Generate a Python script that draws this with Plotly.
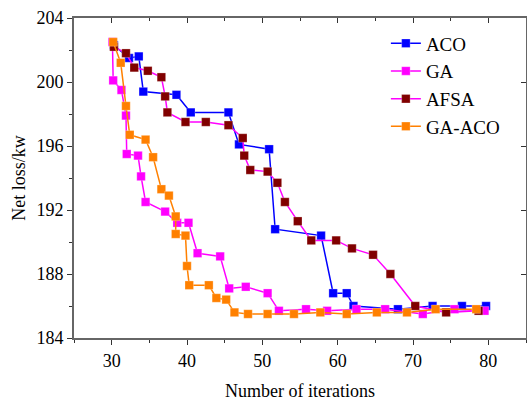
import plotly.graph_objects as go

aco_x = [30.3, 32.3, 33.6, 34.2, 38.6, 40.5, 45.5, 46.9, 50.9, 51.7, 57.8, 59.4, 61.2, 62.1, 68.0, 72.6, 76.5, 79.7]
aco_y = [202.3, 201.5, 201.6, 199.4, 199.2, 198.1, 198.1, 196.1, 195.8, 190.8, 190.4, 186.8, 186.8, 186.0, 185.8, 186.0, 186.0, 186.0]

ga_x = [30.1, 30.2, 31.3, 31.9, 32.0, 33.5, 33.9, 34.5, 37.1, 38.7, 40.2, 41.4, 44.4, 45.6, 47.8, 50.7, 52.2, 55.8, 58.6, 62.5, 66.3, 71.3, 75.5, 79.5]
ga_y = [202.5, 200.1, 199.5, 197.9, 195.5, 195.4, 194.1, 192.5, 191.9, 191.2, 191.2, 189.3, 189.1, 187.1, 187.2, 186.8, 185.7, 185.8, 185.7, 185.8, 185.8, 185.5, 185.8, 185.7]

afsa_x = [30.3, 31.9, 33.0, 34.8, 36.6, 37.1, 37.4, 39.8, 42.5, 45.5, 47.4, 47.6, 48.4, 50.7, 52.0, 53.0, 54.7, 56.5, 59.8, 61.9, 64.7, 67.0, 70.3, 74.4, 78.7]
afsa_y = [202.2, 201.8, 200.9, 200.7, 200.3, 199.1, 198.1, 197.5, 197.5, 197.3, 196.5, 195.4, 194.5, 194.4, 193.7, 192.5, 191.3, 190.1, 190.1, 189.6, 189.2, 188.0, 186.0, 185.6, 185.7]

gaaco_x = [30.2, 31.2, 31.9, 32.4, 34.5, 35.5, 36.6, 37.6, 38.5, 38.5, 39.8, 40.0, 40.3, 42.9, 43.9, 45.2, 46.3, 48.1, 50.7, 54.2, 57.7, 61.2, 65.2, 69.2, 73.0, 78.4]
gaaco_y = [202.5, 201.2, 198.5, 196.7, 196.4, 195.3, 193.3, 192.9, 191.6, 190.5, 190.4, 188.5, 187.3, 187.3, 186.5, 186.4, 185.6, 185.5, 185.5, 185.5, 185.6, 185.5, 185.6, 185.6, 185.8, 185.8]

series = [
    ("ACO", aco_x, aco_y, "#0000FF", "#0000FF"),
    ("GA", ga_x, ga_y, "#FF00FF", "#FF00FF"),
    ("AFSA", afsa_x, afsa_y, "#FF00FF", "#800000"),
    ("GA-ACO", gaaco_x, gaaco_y, "#FF8000", "#FF8000"),
]

fig = go.Figure()
for name, xs, ys, lc, mc in series:
    fig.add_trace(go.Scatter(
        x=xs, y=ys, name=name, mode="lines+markers",
        line=dict(color=lc, width=1.5),
        marker=dict(symbol="square", size=8.5, color=mc,
                    line=dict(color="rgba(255,255,255,0.5)", width=0.5)),
    ))

font = "Liberation Serif"
axcol = "#666666"

fig.update_layout(
    width=527, height=401,
    margin=dict(l=74, r=1, t=18, b=63),
    paper_bgcolor="white", plot_bgcolor="white",
    font=dict(family=font, size=18, color="black"),
    showlegend=True,
    legend=dict(x=0.69, y=0.98, xanchor="left", yanchor="top",
                bgcolor="rgba(0,0,0,0)", font=dict(family=font, size=19),
                tracegroupgap=0, itemwidth=30),
    xaxis=dict(range=[25, 85], dtick=10, tick0=0, showgrid=False, zeroline=False,
               showline=True, linecolor=axcol, linewidth=2,
               ticks="outside", ticklen=5, tickcolor="#333", tickwidth=1,
               tickfont=dict(family=font, size=18),
               minor=dict(dtick=5, tick0=0, ticks="outside", ticklen=3, tickcolor="#333"),
               title=dict(text="Number of iterations", font=dict(family=font, size=18), standoff=15)),
    yaxis=dict(range=[184, 204], dtick=4, tick0=0, showgrid=False, zeroline=False,
               showline=True, linecolor=axcol, linewidth=2,
               ticks="outside", ticklen=5, tickcolor="#333", tickwidth=1,
               tickfont=dict(family=font, size=18),
               minor=dict(dtick=2, tick0=0, ticks="outside", ticklen=3, tickcolor="#333"),
               title=dict(text="Net loss/kw", font=dict(family=font, size=18), standoff=6)),
    xaxis2=dict(range=[25, 85], dtick=10, tick0=0, overlaying="x", side="top",
                showgrid=False, zeroline=False, showticklabels=False,
                showline=True, linecolor=axcol, linewidth=2,
                ticks="inside", ticklen=5, tickcolor="#333",
                minor=dict(dtick=5, tick0=0, ticks="inside", ticklen=3, tickcolor="#333")),
    yaxis2=dict(range=[184, 204], dtick=4, tick0=0, overlaying="y", side="right",
                showgrid=False, zeroline=False, showticklabels=False,
                showline=True, linecolor=axcol, linewidth=2,
                ticks="inside", ticklen=5, tickcolor="#333"),
)
fig.add_trace(go.Scatter(x=[None], y=[None], xaxis="x2", yaxis="y2",
                         showlegend=False, hoverinfo="skip"))

fig.write_html("out.html")
